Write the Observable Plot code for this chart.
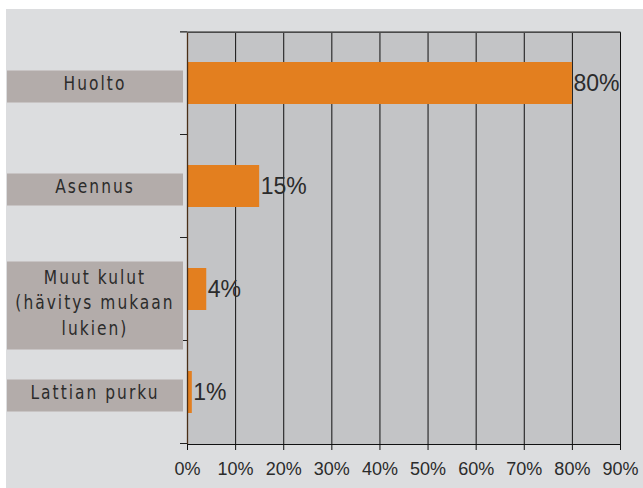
<!DOCTYPE html>
<html>
<head>
<meta charset="utf-8">
<script src="https://cdn.jsdelivr.net/npm/d3@7"></script>
<script src="https://cdn.jsdelivr.net/npm/@observablehq/plot@0.6"></script>
<style>
  body { margin: 0; background: #ffffff; }
  #wrap { position: relative; width: 643px; height: 488px; overflow: hidden; }
  #bg { position: absolute; left: 6px; top: 9px; right: 0; bottom: 0; background: #dcdddf; }
  #chart { position: absolute; left: 0; top: 0; }
</style>
</head>
<body>
<div id="wrap"><div id="bg"></div><div id="chart"></div></div>
<script>
const categories = ["Huolto", "Asennus", "Muut kulut\n(hävitys mukaan\nlukien)", "Lattian purku"];
const values = [80, 15, 4, 1];
const xTicks = [0, 10, 20, 30, 40, 50, 60, 70, 80, 90];

const data = categories.map((c, i) => ({category: c, value: values[i]}));

const labelFont = "'Liberation Sans Narrow', 'Arial Narrow', 'DejaVu Sans Condensed', sans-serif";
const sx = 0.88;

// custom mark: grey label boxes + category text + boundary ticks on the y axis
function categoryAxis(index, scales, vals, dims) {
  const y = scales.y;
  const bw = y.bandwidth();
  const step = y.step();
  const g = d3.create("svg:g");
  const lineH = 25.5;
  const bounds = categories.map(c => y(c) + bw / 2 - step / 2);
  bounds.push(y(categories[categories.length - 1]) + bw / 2 + step / 2);
  g.selectAll("line.b").data(bounds).join("line")
    .attr("x1", dims.marginLeft - 7).attr("x2", dims.marginLeft)
    .attr("y1", d => d).attr("y2", d => d)
    .attr("stroke", "#222").attr("stroke-width", 1);
  // top line, grey and a bit heavier, reaching the left tick
  g.append("line")
    .attr("x1", dims.marginLeft - 7).attr("x2", dims.width - dims.marginRight + 0.5)
    .attr("y1", dims.marginTop).attr("y2", dims.marginTop)
    .attr("stroke", "#5e5e5e").attr("stroke-width", 1.6);
  for (const c of categories) {
    const lines = c.split("\n");
    const n = lines.length;
    const center = y(c) + bw / 2;
    const textC = center + (n - 1) * 6.5;
    const boxH = n * 28 + 4;
    const boxC = textC + 3.5;
    g.append("rect")
      .attr("x", 7).attr("width", 176)
      .attr("y", boxC - boxH / 2).attr("height", boxH)
      .attr("fill", "#b3acaa");
    lines.forEach((t, k) => {
      g.append("text")
        .attr("transform", `scale(${sx},1)`)
        .attr("x", 95 / sx)
        .attr("y", textC + (k - (n - 1) / 2) * lineH)
        .attr("dy", "0.36em")
        .attr("text-anchor", "middle")
        .attr("font-family", labelFont)
        .attr("font-size", 19.5)
        .attr("letter-spacing", "2.3px")
        .attr("fill", "#2b2b2b")
        .text(t);
    });
  }
  return g.node();
}

const chart = Plot.plot({
  width: 643,
  height: 488,
  marginLeft: 187,
  marginRight: 23,
  marginTop: 32,
  marginBottom: 44,
  style: {background: "transparent", fontFamily: "'Liberation Sans', Arial, sans-serif", color: "#2b2b2b"},
  x: {domain: [0, 90], label: null},
  y: {domain: categories, paddingInner: 0.59, paddingOuter: 0.295, axis: null, label: null},
  marks: [
    Plot.frame({fill: "#c3c4c6", stroke: null}),
    Plot.gridX(xTicks.slice(1), {stroke: "#111", strokeOpacity: 1, strokeWidth: 1}),
    Plot.barX(data, {x: "value", y: "category", fill: "#e37f1f"}),
    Plot.text(data, {x: "value", y: "category", text: d => d.value + "%", textAnchor: "start", dx: 1, fontSize: 23, fill: "#2b2b2b"}),
    Plot.frame({stroke: "#111", strokeOpacity: 1}),
    Plot.ruleX([0], {stroke: "#4a2e17", strokeWidth: 1.3}),
    Plot.axisX({ticks: xTicks, tickFormat: d => d + "%", tickSize: 6, tickPadding: 12, fontSize: 18, label: null, stroke: "#111"}),
    categoryAxis
  ]
});
document.getElementById("chart").appendChild(chart);
</script>
</body>
</html>
